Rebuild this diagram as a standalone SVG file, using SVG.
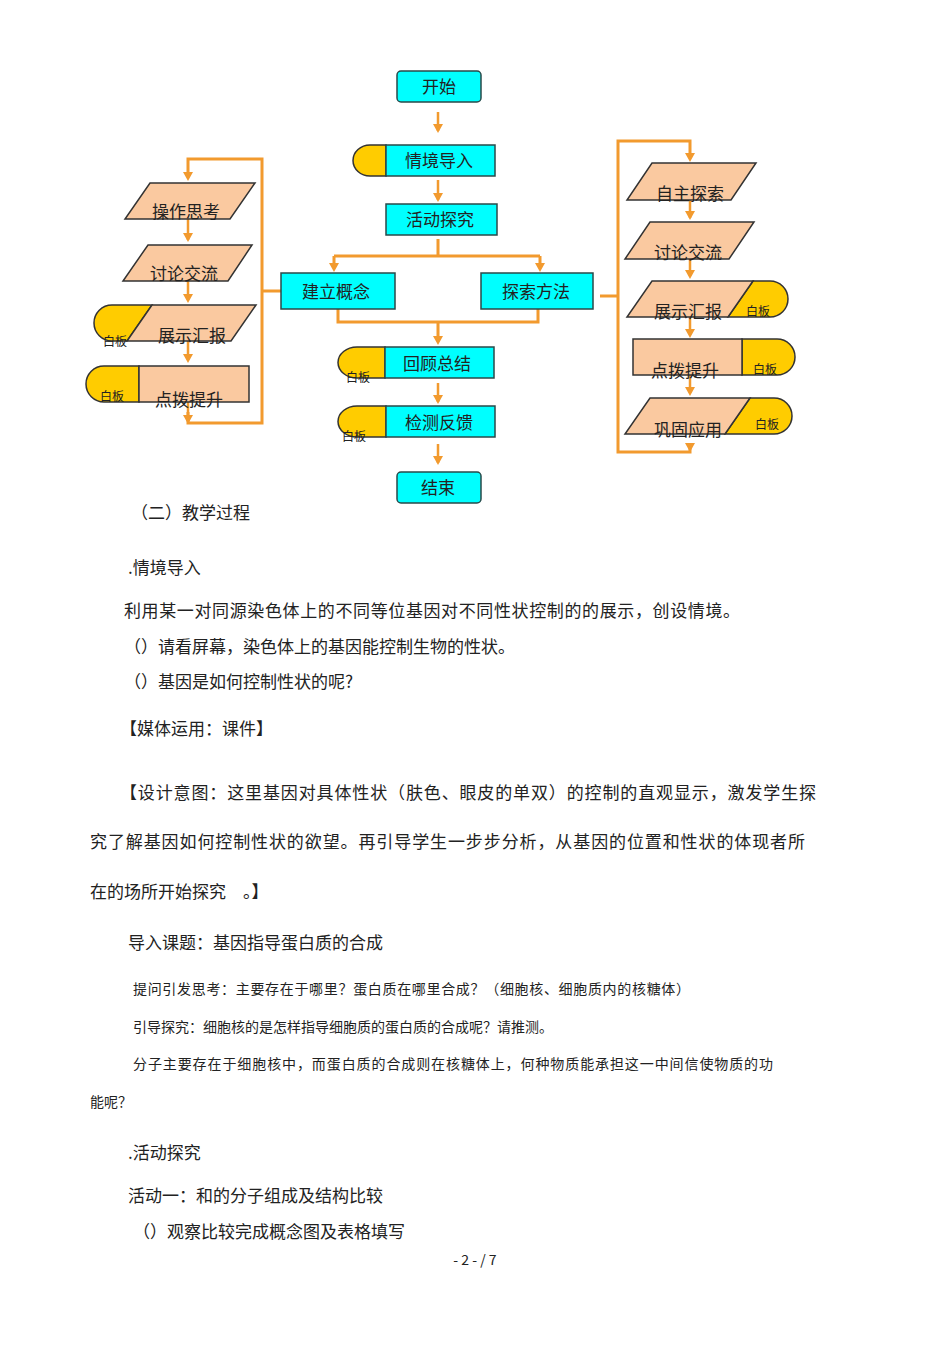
<svg xmlns="http://www.w3.org/2000/svg" width="950" height="1345" viewBox="0 0 950 1345">
<defs>
<marker id="ah" markerWidth="8" markerHeight="8" refX="4" refY="6" orient="auto" markerUnits="userSpaceOnUse" viewBox="0 0 8 8"><path d="M0,0 L8,0 L4,8 Z" fill="#F29A2E" transform="rotate(-90 4 4)"/></marker>
<style>
text{font-family:"Noto Sans CJK SC","Liberation Sans",sans-serif;fill:#222}
.n{font-size:17px;text-anchor:middle}
.s{font-size:12px;text-anchor:middle}
.b{font-size:17px}
.t{font-size:14px}
.c{fill:#00FFFF;stroke:#2a4a4a;stroke-width:1.5}
.p{fill:#FAC9A0;stroke:#333;stroke-width:1.5}
.y{fill:#FFCC00;stroke:#333;stroke-width:1.5}
.l{fill:none;stroke:#F29A2E;stroke-width:3}
.a{fill:none;stroke:#F29A2E;stroke-width:2.5}
</style>
</defs>
<g id="connectors">
<path class="a" d="M438,112V131M438,180V200M438,383V402M438,444V463M188,219V240M188,281V300M188,341V360M188,402V421M690,200V218M690,259V276M690,317V334M690,375V393"/>
<path class="l" d="M438,239V256M334,256H540M334,256V268M540,256V268M338,309V322H538V309M438,322V340"/>
<path class="l" d="M188,175V159H262V423H188V412M262,291H281"/>
<path class="l" d="M690,156V141H618V452H690V443M600,296H618"/>
<path fill="#F29A2E" d="M433,124h10l-5,9zM433,193h10l-5,9zM433,395h10l-5,9zM433,456h10l-5,9zM433,336h10l-5,9zM329,263h10l-5,9zM535,263h10l-5,9zM183,172h10l-5,9zM183,233h10l-5,9zM183,294h10l-5,9zM183,354h10l-5,9zM183,415h10l-5,9zM685,153h10l-5,9zM685,211h10l-5,9zM685,270h10l-5,9zM685,329h10l-5,9zM685,387h10l-5,9zM685,443h10l-5,9z"/>
</g>
<g id="start"><rect class="c" x="397" y="71" width="84" height="31" rx="4"/><text class="n" x="439" y="93">开始</text></g>
<g id="intro"><path class="y" d="M386,145H370A17,15.5 0 0 0 370,176H386Z"/><rect class="c" x="386" y="145" width="109" height="31"/><text class="n" x="439" y="167">情境导入</text></g>
<g id="explore"><rect class="c" x="386" y="204" width="111" height="31"/><text class="n" x="440" y="226">活动探究</text></g>
<g id="concept"><rect class="c" x="281" y="273" width="114" height="36"/><text class="n" x="336" y="298">建立概念</text></g>
<g id="method"><rect class="c" x="481" y="273" width="112" height="36"/><text class="n" x="536" y="298">探索方法</text></g>
<g id="review"><path class="y" d="M385,347H357A19,15.5 0 0 0 357,378H385Z"/><rect class="c" x="385" y="347" width="109" height="31"/><text class="n" x="437" y="370">回顾总结</text><text class="s" x="358" y="382">白板</text></g>
<g id="test"><path class="y" d="M386,406H357A19,15.5 0 0 0 357,437H386Z"/><rect class="c" x="386" y="406" width="109" height="31"/><text class="n" x="439" y="429">检测反馈</text><text class="s" x="354" y="441">白板</text></g>
<g id="end"><rect class="c" x="397" y="472" width="84" height="31" rx="4"/><text class="n" x="438" y="494">结束</text></g>
<g id="l1"><polygon class="p" points="150,183 255,183 230,219 125,219"/><text class="n" x="186" y="218">操作思考</text></g>
<g id="l2"><polygon class="p" points="148,245 252,245 228,281 123,281"/><text class="n" x="184" y="280">讨论交流</text></g>
<g id="l3"><path class="y" d="M152,305H112A18,18 0 0 0 112,341H127Z"/><polygon class="p" points="152,305 256,305 231,341 127,341"/><text class="n" x="192" y="342">展示汇报</text><text class="s" x="115" y="346">白板</text></g>
<g id="l4"><path class="y" d="M139,366H104A18,18 0 0 0 104,402H139Z"/><rect class="p" x="139" y="366" width="110" height="36"/><text class="n" x="189" y="406">点拨提升</text><text class="s" x="112" y="401">白板</text></g>
<g id="r1"><polygon class="p" points="652,163 756,163 731,200 627,200"/><text class="n" x="690" y="200">自主探索</text></g>
<g id="r2"><polygon class="p" points="650,222 754,222 729,259 625,259"/><text class="n" x="688" y="259">讨论交流</text></g>
<g id="r3"><path class="y" d="M753,281H770A18,18 0 0 1 770,317H728Z"/><polygon class="p" points="652,281 753,281 728,317 627,317"/><text class="n" x="688" y="318">展示汇报</text><text class="s" x="758" y="316">白板</text></g>
<g id="r4"><path class="y" d="M742,339H777A18,18 0 0 1 777,375H742Z"/><rect class="p" x="633" y="339" width="109" height="36"/><text class="n" x="685" y="377">点拨提升</text><text class="s" x="765" y="374">白板</text></g>
<g id="r5"><path class="y" d="M750,398H774A18,18 0 0 1 774,434H725Z"/><polygon class="p" points="650,398 750,398 725,434 625,434"/><text class="n" x="688" y="436">巩固应用</text><text class="s" x="767" y="429">白板</text></g>
<g id="body">
<text class="b" x="131" y="519">（二）教学过程</text>
<text class="b" x="128" y="574">.情境导入</text>
<text class="b" x="124" y="617" textLength="616">利用某一对同源染色体上的不同等位基因对不同性状控制的的展示，创设情境。</text>
<text class="b" x="124" y="653">（）请看屏幕，染色体上的基因能控制生物的性状。</text>
<text class="b" x="124" y="688">（）基因是如何控制性状的呢?</text>
<text class="b" x="120" y="735">【媒体运用：课件】</text>
<text class="b" x="120" y="799" textLength="696">【设计意图：这里基因对具体性状（肤色、眼皮的单双）的控制的直观显示，激发学生探</text>
<text class="b" x="90" y="848" textLength="715">究了解基因如何控制性状的欲望。再引导学生一步步分析，从基因的位置和性状的体现者所</text>
<text class="b" x="90" y="898">在的场所开始探究　。】</text>
<text class="b" x="128" y="949">导入课题：基因指导蛋白质的合成</text>
<text class="t" x="133" y="994" textLength="557">提问引发思考：主要存在于哪里？蛋白质在哪里合成？（细胞核、细胞质内的核糖体）</text>
<text class="t" x="133" y="1032">引导探究：细胞核的是怎样指导细胞质的蛋白质的合成呢？请推测。</text>
<text class="t" x="133" y="1069" textLength="640">分子主要存在于细胞核中，而蛋白质的合成则在核糖体上，何种物质能承担这一中间信使物质的功</text>
<text class="t" x="90" y="1107">能呢？</text>
<text class="b" x="128" y="1159">.活动探究</text>
<text class="b" x="128" y="1202">活动一：和的分子组成及结构比较</text>
<text class="b" x="133" y="1238">（）观察比较完成概念图及表格填写</text>
<text class="t" x="475" y="1265" text-anchor="middle">- 2 - / 7</text>
</g>
</svg>
